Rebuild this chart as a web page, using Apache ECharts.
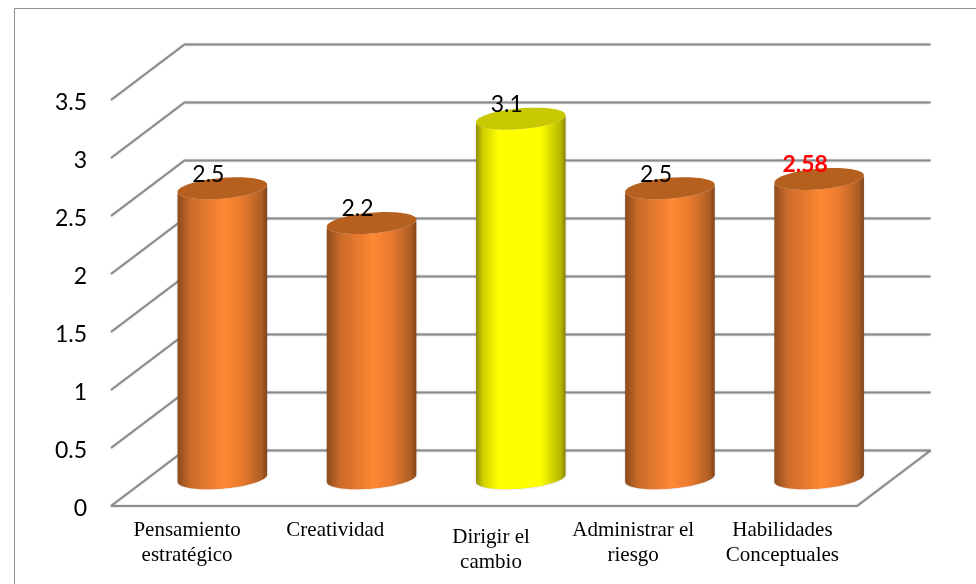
<!DOCTYPE html>
<html>
<head>
<meta charset="utf-8">
<style>html,body{margin:0;padding:0;background:#fff}#chart{width:976px;height:584px}</style>
<script src="https://cdn.jsdelivr.net/npm/echarts@6/dist/echarts.min.js"></script>
</head>
<body>
<div id="chart"></div>
<script>
// Competency scores
var categories = ['Pensamiento\nestratégico', 'Creatividad', 'Dirigir el\ncambio', 'Administrar el\nriesgo', 'Habilidades\nConceptuales'];
var scores = [2.5, 2.2, 3.1, 2.5, 2.58];
var yTicks = [0, 0.5, 1, 1.5, 2, 2.5, 3, 3.5];

// Oblique projection: how far the back wall sits from the front plane
var depthX = 73.5, depthY = -55.5;
var lineColor = '#8c8c8c';
var lineStyle = { fill: null, stroke: lineColor, lineWidth: 1.9, shadowBlur: 1.5, shadowColor: 'rgba(0,0,0,0.3)' };

var orangeStyle = {
  top: '#b5601f',
  stops: [[0, '#8c4a1b'], [0.14, '#c96a29'], [0.52, '#ff8833'], [0.72, '#ea7a2e'], [0.94, '#ad5d24'], [1, '#824418']]
};
var yellowStyle = {
  top: '#c8c800',
  stops: [[0, '#8f8f00'], [0.08, '#d0d000'], [0.25, '#ffff00'], [0.72, '#ffff00'], [0.95, '#b5b500'], [1, '#858500']]
};
var barStyles = [orangeStyle, orangeStyle, yellowStyle, orangeStyle, orangeStyle];
var labelStyles = [
  { fill: '#000', fontWeight: 'normal' }, { fill: '#000', fontWeight: 'normal' }, { fill: '#000', fontWeight: 'normal' },
  { fill: '#000', fontWeight: 'normal' }, { fill: '#ff0000', fontWeight: 'bold' }
];
// Extra spacing around individual category labels: [top, right, bottom, left]
var labelPadding = [[0, 0, 0, 3], [0, 0, 0, 1], [7, 0, 0, 14], [0, 0, 0, 0], [0, 0, 0, 0]];

// Walls and floor: one polyline per tick, running from the front edge to the back wall
function renderWall(params, api) {
  var rect = params.coordSys;
  var y = api.coord([0, api.value(1)])[1];
  var left = rect.x, right = rect.x + rect.width;
  var elements = [{
    type: 'polyline',
    shape: { points: [[left, y], [left + depthX, y + depthY], [right + depthX, y + depthY]] },
    style: lineStyle
  }];
  if (api.value(1) === 0) {
    elements.push({
      type: 'polyline',
      shape: { points: [[left, y], [right, y], [right + depthX, y + depthY]] },
      style: lineStyle
    });
  }
  return { type: 'group', children: elements };
}

// Outline of the tilted ellipse closing a cylinder, from theta0 to theta1
function ellipseArc(cx, cy, a, b, s, theta0, theta1, n) {
  var pts = [];
  for (var i = 0; i <= n; i++) {
    var t = theta0 + (theta1 - theta0) * i / n;
    pts.push([cx + a * Math.cos(t), cy - b * Math.sin(t) - s * Math.cos(t)]);
  }
  return pts;
}

function renderCylinder(params, api) {
  var idx = api.value(0), val = api.value(1);
  var base = api.coord([idx, 0]), head = api.coord([idx, val]);
  var cx = base[0] + depthX / 2;
  var yBase = base[1] + depthY / 2, yTop = head[1] + depthY / 2;
  var a = api.size([1, 0])[0] * 0.3;
  var b = 10.4, s = 3.6;
  var look = barStyles[params.dataIndex], text = labelStyles[params.dataIndex];

  var bodyPts = ellipseArc(cx, yTop, a, b, s, Math.PI, 2 * Math.PI, 40)
    .concat(ellipseArc(cx, yBase, a, b, s, 2 * Math.PI, Math.PI, 40));

  return {
    type: 'group',
    children: [
      {
        type: 'polygon',
        shape: { points: bodyPts },
        style: {
          shadowBlur: 2,
          shadowColor: 'rgba(0,0,0,0.22)',
          fill: new echarts.graphic.LinearGradient(0, 0, 1, 0, look.stops.map(function (p) {
            return { offset: p[0], color: p[1] };
          }))
        }
      },
      {
        type: 'polygon',
        shape: { points: ellipseArc(cx, yTop, a, b, s, 0, 2 * Math.PI, 80) },
        style: { fill: look.top }
      },
      {
        type: 'text',
        style: {
          text: String(val),
          x: cx - 14,
          y: yTop - 14,
          align: 'center',
          verticalAlign: 'middle',
          fill: text.fill,
          fontWeight: text.fontWeight,
          fontFamily: 'Lato',
          fontSize: 23
        }
      }
    ]
  };
}

var chart = echarts.init(document.getElementById('chart'), null, { renderer: 'canvas' });
chart.setOption({
  animation: false,
  backgroundColor: '#ffffff',
  graphic: [{
    type: 'polyline',
    silent: true,
    shape: { points: [[14.5, 600], [14.5, 8.5], [990, 8.5]] },
    style: { fill: null, stroke: '#8c8c8c', lineWidth: 1 }
  }],
  grid: { left: 111, right: 119, top: 100, bottom: 78 },
  xAxis: {
    type: 'category',
    data: categories.map(function (c, i) {
      return { value: c, textStyle: { padding: labelPadding[i] } };
    }),
    axisLine: { show: false },
    axisTick: { show: false },
    axisLabel: {
      interval: 0,
      margin: 12,
      fontFamily: 'Liberation Serif',
      fontSize: 21,
      lineHeight: 25,
      color: '#000'
    }
  },
  yAxis: {
    type: 'value',
    min: 0,
    max: 3.5,
    interval: 0.5,
    axisLine: { show: false },
    axisTick: { show: false },
    splitLine: { show: false },
    axisLabel: {
      margin: 24,
      color: '#000',
      formatter: function (v) { return '{t|' + v + '}'; },
      rich: {
        t: { fontFamily: 'Lato', fontSize: 23, color: '#000', padding: [6, 0, 0, 0] }
      }
    }
  },
  series: [
    {
      type: 'custom',
      name: 'Rejilla',
      silent: true,
      clip: false,
      z: 1,
      renderItem: renderWall,
      encode: { x: 0, y: 1 },
      data: yTicks.map(function (t) { return [0, t]; })
    },
    {
      type: 'custom',
      name: 'Puntaje',
      clip: false,
      z: 2,
      renderItem: renderCylinder,
      encode: { x: 0, y: 1 },
      data: scores.map(function (v, i) { return [i, v]; })
    }
  ]
});
</script>
</body>
</html>
